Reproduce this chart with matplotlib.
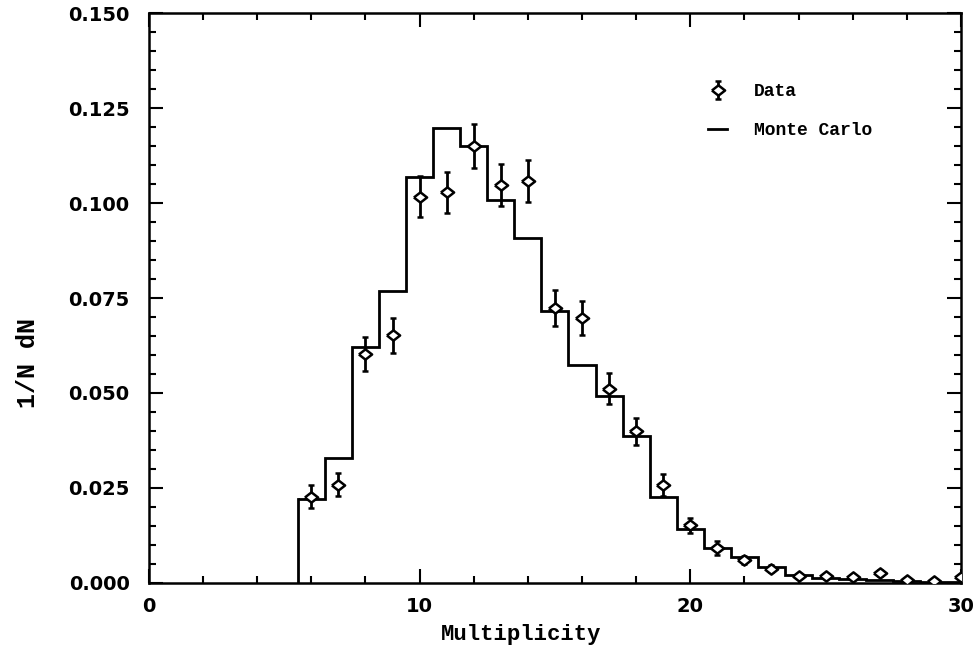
import matplotlib.pyplot as plt
import numpy as np
from matplotlib.ticker import MultipleLocator, FormatStrFormatter

# Data
mult = np.arange(6, 31)
data = np.array([0.0227, 0.0259, 0.0602, 0.0652, 0.1017, 0.1028, 0.1151, 0.1048,
                 0.1059, 0.0723, 0.0697, 0.0511, 0.0399, 0.0258, 0.0152, 0.0092,
                 0.0061, 0.0038, 0.0018, 0.0018, 0.0016, 0.0027, 0.0008, 0.0004,
                 0.0016])
err = np.array([0.0030, 0.0030, 0.0045, 0.0046, 0.0054, 0.0055, 0.0058, 0.0055,
                0.0055, 0.0047, 0.0045, 0.0041, 0.0036, 0.0030, 0.0020, 0.0018,
                0.0010, 0.0008, 0.0006, 0.0006, 0.0006, 0.0008, 0.0005, 0.0004,
                0.0005])
mc = np.array([0.0222, 0.0330, 0.0620, 0.0768, 0.1069, 0.1198, 0.1151, 0.1008,
               0.0908, 0.0715, 0.0573, 0.0491, 0.0388, 0.0227, 0.0143, 0.0092,
               0.0069, 0.0042, 0.0021, 0.0013, 0.0010, 0.0007, 0.0005, 0.0003,
               0.0002])

fig = plt.figure(figsize=(9.77, 6.55), dpi=100)
ax = fig.add_axes([0.1525, 0.110, 0.831, 0.870])

edges = np.append(mult - 0.5, mult[-1] + 0.5)
mc_handle = ax.stairs(mc, edges, color='black', lw=2, baseline=None)
ax.plot([edges[0], edges[0]], [0, mc[0]], color='black', lw=2)

# squat open diamond, a bit wider than tall
diamond = [(-1, 0), (0, 0.78), (1, 0), (0, -0.78), (-1, 0)]
data_handle = ax.errorbar(mult, data, yerr=err, linestyle='none', marker=diamond,
                          ms=9.5, mfc='white', mec='black', mew=1.8, ecolor='black',
                          elinewidth=2, capsize=2.2, capthick=2, zorder=3)

ax.set_xlim(0, 30)
ax.set_ylim(0, 0.150)
ax.xaxis.set_major_locator(MultipleLocator(10))
ax.xaxis.set_minor_locator(MultipleLocator(2))
ax.yaxis.set_major_locator(MultipleLocator(0.025))
ax.yaxis.set_minor_locator(MultipleLocator(0.005))
ax.yaxis.set_major_formatter(FormatStrFormatter('%.3f'))
ax.tick_params(which='both', direction='in', top=True, right=True, width=1.5)
ax.tick_params(which='major', length=10, labelsize=14)
ax.tick_params(axis='y', which='major', pad=14)
ax.tick_params(axis='x', which='major', pad=10)
ax.tick_params(which='minor', length=5)
for lab in ax.get_xticklabels() + ax.get_yticklabels():
    lab.set_family('DejaVu Sans')
    lab.set_fontweight('bold')
for s in ax.spines.values():
    s.set_linewidth(1.8)

ax.set_xlabel('Multiplicity', fontsize=16, family='Liberation Mono', fontweight='bold')
ax.xaxis.set_label_coords(0.458, -0.072)
ax.set_ylabel('1/N dN', fontsize=18, family='Liberation Mono', fontweight='bold')
ax.yaxis.set_label_coords(-0.134, 0.386)

ax.legend([data_handle, mc_handle], ['Data', 'Monte Carlo'], loc='upper left',
          bbox_to_anchor=(0.669, 0.905), frameon=False, handlelength=1.05,
          handletextpad=1.45, labelspacing=1.2,
          prop={'family': 'Liberation Mono', 'weight': 'bold', 'size': 13})

fig.savefig('out.png', dpi=100)
